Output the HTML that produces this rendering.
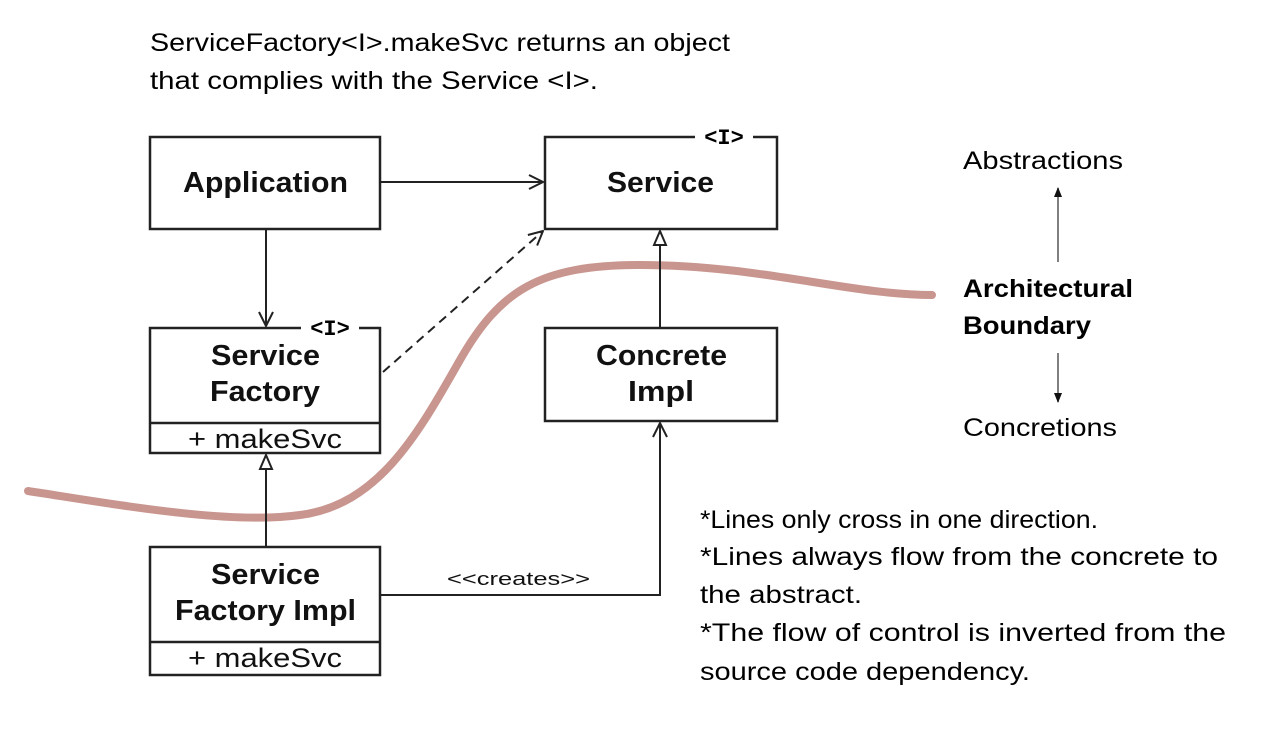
<!DOCTYPE html>
<html><head><meta charset="utf-8"><style>
html,body{margin:0;padding:0;background:#fff;}
svg{display:block;}
</style></head><body>
<svg width="1286" height="734" viewBox="0 0 1286 734" xmlns="http://www.w3.org/2000/svg">
<defs>
<marker id="open" viewBox="0 0 16 16" refX="15" refY="8" markerWidth="16" markerHeight="16" markerUnits="userSpaceOnUse" orient="auto">
<path d="M1,1 L15,8 L1,15" fill="none" stroke="#222" stroke-width="2"/>
</marker>
<marker id="tri" viewBox="0 0 16 16" refX="15" refY="8" markerWidth="16" markerHeight="16" markerUnits="userSpaceOnUse" orient="auto">
<path d="M1,2 L15,8 L1,14 Z" fill="#fff" stroke="#222" stroke-width="2"/>
</marker>
<marker id="solid" viewBox="0 0 10 10" refX="9" refY="5" markerWidth="10" markerHeight="10" markerUnits="userSpaceOnUse" orient="auto">
<path d="M0,1 L10,5 L0,9 Z" fill="#111"/>
</marker>
</defs>

<g font-family="Liberation Sans, sans-serif" fill="#000">
<text x="150" y="51" font-size="25" textLength="580" lengthAdjust="spacingAndGlyphs">ServiceFactory&lt;I&gt;.makeSvc returns an object</text>
<text x="150" y="89" font-size="25" textLength="448" lengthAdjust="spacingAndGlyphs">that complies with the Service &lt;I&gt;.</text>
</g>

<!-- boundary curve -->
<path d="M28,491 C120,505 230,525 300,515 C380,505 420,430 460,360 C500,290 540,265 640,265 C760,265 850,295 932,295" fill="none" stroke="#c9958f" stroke-width="8" stroke-linecap="round"/>

<g fill="#fff" stroke="#222" stroke-width="2.5">
<rect x="150" y="137" width="230" height="92"/>
<rect x="545" y="137" width="232" height="92"/>
<rect x="150" y="328" width="230" height="125"/>
<rect x="545" y="328" width="232" height="93"/>
<rect x="150" y="547" width="230" height="128"/>
</g>
<g stroke="#222" stroke-width="2.5">
<line x1="150" y1="423" x2="380" y2="423"/>
<line x1="150" y1="642" x2="380" y2="642"/>
</g>

<!-- <I> labels -->
<rect x="695" y="127" width="58" height="18" fill="#fff"/>
<text x="724" y="144" font-family="Liberation Mono, monospace" font-weight="bold" font-size="22" text-anchor="middle">&lt;I&gt;</text>
<rect x="301" y="318" width="58" height="18" fill="#fff"/>
<text x="330" y="335" font-family="Liberation Mono, monospace" font-weight="bold" font-size="22" text-anchor="middle">&lt;I&gt;</text>

<g font-family="Liberation Sans, sans-serif" font-weight="bold" font-size="29" fill="#111">
<text x="183" y="192" textLength="165" lengthAdjust="spacingAndGlyphs">Application</text>
<text x="607" y="192" textLength="107" lengthAdjust="spacingAndGlyphs">Service</text>
<text x="211" y="365" textLength="109" lengthAdjust="spacingAndGlyphs">Service</text>
<text x="210" y="401" textLength="110" lengthAdjust="spacingAndGlyphs">Factory</text>
<text x="596" y="365" textLength="131" lengthAdjust="spacingAndGlyphs">Concrete</text>
<text x="628" y="401" textLength="66" lengthAdjust="spacingAndGlyphs">Impl</text>
<text x="211" y="584" textLength="109" lengthAdjust="spacingAndGlyphs">Service</text>
<text x="175" y="620" textLength="181" lengthAdjust="spacingAndGlyphs">Factory Impl</text>
</g>
<g font-family="Liberation Sans, sans-serif" font-size="27" fill="#111">
<text x="188" y="448" textLength="154" lengthAdjust="spacingAndGlyphs">+ makeSvc</text>
<text x="188" y="667" textLength="154" lengthAdjust="spacingAndGlyphs">+ makeSvc</text>
</g>
<text x="447" y="585" font-family="Liberation Sans, sans-serif" font-size="18" fill="#111" textLength="143" lengthAdjust="spacingAndGlyphs">&lt;&lt;creates&gt;&gt;</text>

<!-- connectors -->
<g fill="none" stroke="#222" stroke-width="2">
<line x1="380" y1="182" x2="543" y2="182" marker-end="url(#open)"/>
<line x1="266" y1="229" x2="266" y2="326" marker-end="url(#open)"/>
<line x1="383" y1="372" x2="543" y2="231" stroke-dasharray="9,6" marker-end="url(#open)"/>
<line x1="660" y1="328" x2="660" y2="231" marker-end="url(#tri)"/>
<line x1="266" y1="547" x2="266" y2="455" marker-end="url(#tri)"/>
<polyline points="380,595 660,595 660,423" marker-end="url(#open)"/>
</g>

<!-- right side -->
<g font-family="Liberation Sans, sans-serif" font-size="25" fill="#000">
<text x="963" y="169" textLength="160" lengthAdjust="spacingAndGlyphs">Abstractions</text>
<text x="963" y="297" font-weight="bold" textLength="170" lengthAdjust="spacingAndGlyphs">Architectural</text>
<text x="963" y="334" font-weight="bold" textLength="128" lengthAdjust="spacingAndGlyphs">Boundary</text>
<text x="963" y="436" textLength="154" lengthAdjust="spacingAndGlyphs">Concretions</text>
</g>
<g stroke="#555" stroke-width="1.5">
<line x1="1058" y1="262" x2="1058" y2="188" marker-end="url(#solid)"/>
<line x1="1058" y1="353" x2="1058" y2="402" marker-end="url(#solid)"/>
</g>

<g font-family="Liberation Sans, sans-serif" font-size="25" fill="#000">
<text x="700" y="528" textLength="398" lengthAdjust="spacingAndGlyphs">*Lines only cross in one direction.</text>
<text x="700" y="565" textLength="518" lengthAdjust="spacingAndGlyphs">*Lines always flow from the concrete to</text>
<text x="700" y="603" textLength="162" lengthAdjust="spacingAndGlyphs">the abstract.</text>
<text x="700" y="641" textLength="526" lengthAdjust="spacingAndGlyphs">*The flow of control is inverted from the</text>
<text x="700" y="680" textLength="330" lengthAdjust="spacingAndGlyphs">source code dependency.</text>
</g>
</svg>
</body></html>
